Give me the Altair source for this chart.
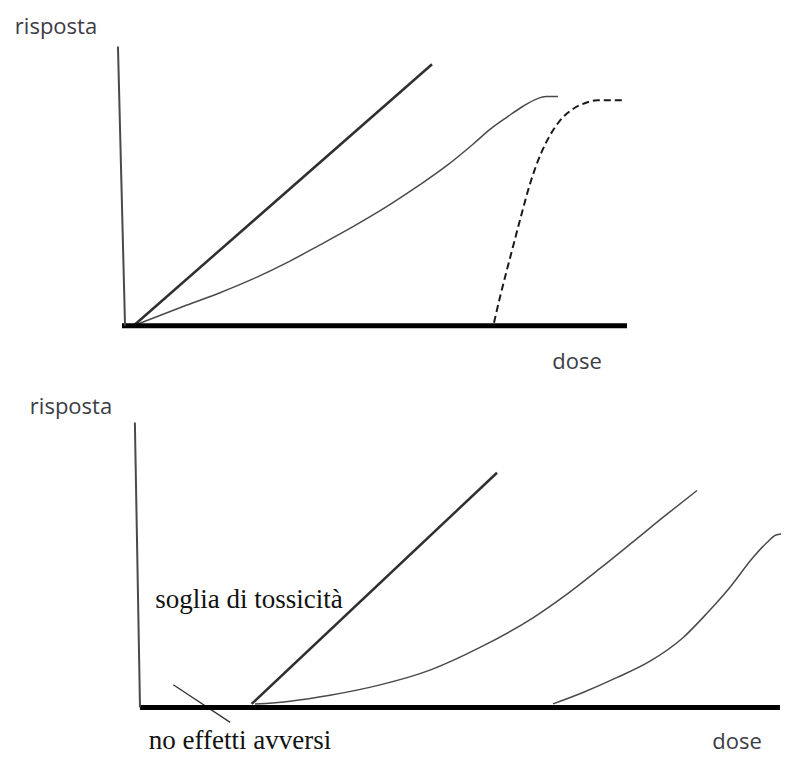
import altair as alt
import pandas as pd

# ---------------- Top panel (dose / risposta units, axes run 0..100) ----------------
top_axis_dose = [0.0, 100.0]
top_yaxis_dose = [0.6, -0.8]
top_yaxis_resp = [0.0, 100.0]

top_line_dose = [2.28, 61.39]
top_line_resp = [0.0, 93.64]

top_curve_dose = [2.77, 12.87, 19.41, 25.94, 32.67, 39.21, 45.74, 52.48, 59.01, 64.36, 69.50,
                  72.87, 76.24, 79.41, 82.18, 83.96, 86.34]
top_curve_resp = [0.35, 7.42, 11.84, 16.78, 22.61, 28.98, 35.51, 42.76, 50.53, 57.42, 65.02,
                  70.32, 74.73, 78.62, 81.27, 82.08, 82.08]

top_dash_dose = [73.66, 74.85, 76.24, 77.62, 79.01, 80.40, 81.78, 83.17, 84.75, 86.73, 89.11,
                 91.88, 94.06, 99.6]
top_dash_resp = [1.06, 10.25, 20.14, 29.68, 39.22, 48.41, 56.18, 62.54, 68.2, 73.5, 77.39,
                 79.86, 80.74, 80.74]

top_labels = ["risposta", "dose"]
top_label_dose = [-13.07, 90.1]
top_label_resp = [104.6, -15.5]

# ---------------- Bottom panel ----------------
bot_axis_dose = [0.0, 100.0]
bot_yaxis_dose = [0.0, -0.8]
bot_yaxis_resp = [0.0, 100.0]

bot_line_dose = [17.45, 55.78]
bot_line_resp = [1.28, 82.35]

bot_curve2_dose = [17.97, 23.44, 29.69, 37.5, 45.31, 53.13, 61.41, 66.72, 71.88, 77.03, 82.34, 87.03]
bot_curve2_resp = [1.21, 2.25, 4.33, 7.96, 13.15, 21.11, 31.49, 39.79, 48.79, 58.13, 67.82, 76.12]

bot_curve3_dose = [64.53, 69.22, 74.48, 79.69, 84.84, 88.55, 92.19, 95.78, 97.92, 99.38, 100.6]
bot_curve3_resp = [1.28, 5.29, 10.48, 16.26, 24.5, 32.98, 42.21, 52.6, 57.79, 60.55, 61.0]

bot_tick_dose = [5.2, 14.1]
bot_tick_resp = [8.0, -5.2]

bot_sans_labels = ["risposta", "dose"]
bot_sans_dose = [-10.78, 93.28]
bot_sans_resp = [102.8, -14.53]

bot_serif_labels = ["soglia di tossicità", "no effetti avversi"]
bot_serif_dose = [17.03, 15.63]
bot_serif_resp = [34.95, -14.53]

W = 773
H = 747  # whole drawing; page margin 8px

SANS = "Open Sans"
SERIF = "Liberation Serif"
SANS_COLOR = "#3c3c46"


def series(d, r):
    return pd.DataFrame({"dose": d, "resp": r, "i": list(range(len(d)))})


def px_domain(origin, scale, lo, hi, invert=False):
    # convert a page-pixel span [lo, hi] into data units for a panel
    if invert:
        return [(origin - hi) / scale, (origin - lo) / scale]
    return [(lo - origin) / scale, (hi - origin) / scale]


def make_panel(xdom, ydom, segs, axis_x, axis_y, texts):
    xs = alt.Scale(domain=xdom, nice=False, zero=False)
    ys = alt.Scale(domain=ydom, nice=False, zero=False)
    X = alt.X("dose:Q", scale=xs, axis=None)
    Y = alt.Y("resp:Q", scale=ys, axis=None)
    layers = []
    for df, props in segs:
        layers.append(
            alt.Chart(df).mark_line(strokeJoin="round", **props).encode(x=X, y=Y, order="i:Q")
        )
    axdf = pd.DataFrame({"dose": [axis_x[0]], "dose2": [axis_x[1]], "resp": [0.0]})
    layers.append(
        alt.Chart(axdf).mark_bar(color="#000000", size=5, orient="horizontal").encode(
            x=X, x2="dose2:Q", y=Y
        )
    )
    layers.append(
        alt.Chart(axis_y).mark_line(color="#4a4a4a", strokeWidth=2, strokeJoin="round").encode(
            x=X, y=Y, order="i:Q"
        )
    )
    for df, props in texts:
        layers.append(alt.Chart(df).mark_text(**props).encode(x=X, y=Y, text="label:N"))
    return alt.layer(*layers)


# page pixels covered by the drawing: x 8..781, y 8..(8+H)
X0, X1 = 8, 8 + W
Y0, Y1 = 8, 8 + H

# top panel: axis origin at (122,325), 5.05 px per dose unit, 2.83 px per response unit
top = make_panel(
    px_domain(122, 5.05, X0, X1),
    px_domain(325, 2.83, Y0, Y1, invert=True),
    [
        (series(top_line_dose, top_line_resp), dict(color="#2f2f2f", strokeWidth=2.5)),
        (series(top_curve_dose, top_curve_resp), dict(color="#4a4a4a", strokeWidth=1.5, interpolate="monotone")),
        (series(top_dash_dose, top_dash_resp), dict(color="#1a1a1a", strokeWidth=2, strokeDash=[7, 4], interpolate="monotone")),
    ],
    top_axis_dose,
    series(top_yaxis_dose, top_yaxis_resp),
    [
        (
            pd.DataFrame({"label": top_labels, "dose": top_label_dose, "resp": top_label_resp}),
            dict(font=SANS, fontSize=22, color=SANS_COLOR, align="center", baseline="alphabetic"),
        )
    ],
)

# bottom panel: axis origin at (140,712), 6.4 px per dose unit, 2.89 px per response unit
bottom = make_panel(
    px_domain(140, 6.4, X0, X1),
    px_domain(712, 2.89, Y0, Y1, invert=True),
    [
        (series(bot_line_dose, bot_line_resp), dict(color="#2f2f2f", strokeWidth=2.5)),
        (series(bot_curve2_dose, bot_curve2_resp), dict(color="#4a4a4a", strokeWidth=1.5, interpolate="monotone")),
        (series(bot_curve3_dose, bot_curve3_resp), dict(color="#4a4a4a", strokeWidth=1.5, interpolate="monotone")),
        (series(bot_tick_dose, bot_tick_resp), dict(color="#333333", strokeWidth=1.3)),
    ],
    bot_axis_dose,
    series(bot_yaxis_dose, bot_yaxis_resp),
    [
        (
            pd.DataFrame({"label": bot_sans_labels, "dose": bot_sans_dose, "resp": bot_sans_resp}),
            dict(font=SANS, fontSize=22, color=SANS_COLOR, align="center", baseline="alphabetic"),
        ),
        (
            pd.DataFrame({"label": bot_serif_labels, "dose": bot_serif_dose, "resp": bot_serif_resp}),
            dict(font=SERIF, fontSize=27, color="#111111", align="center", baseline="alphabetic"),
        ),
    ],
)

chart = (
    alt.layer(top, bottom)
    .resolve_scale(x="independent", y="independent")
    .properties(width=W, height=H, padding=0, autosize=alt.AutoSizeParams(type="none"))
    .configure_view(stroke=None)
)

chart.save("out.html", embed_options={"renderer": "svg", "actions": False})
